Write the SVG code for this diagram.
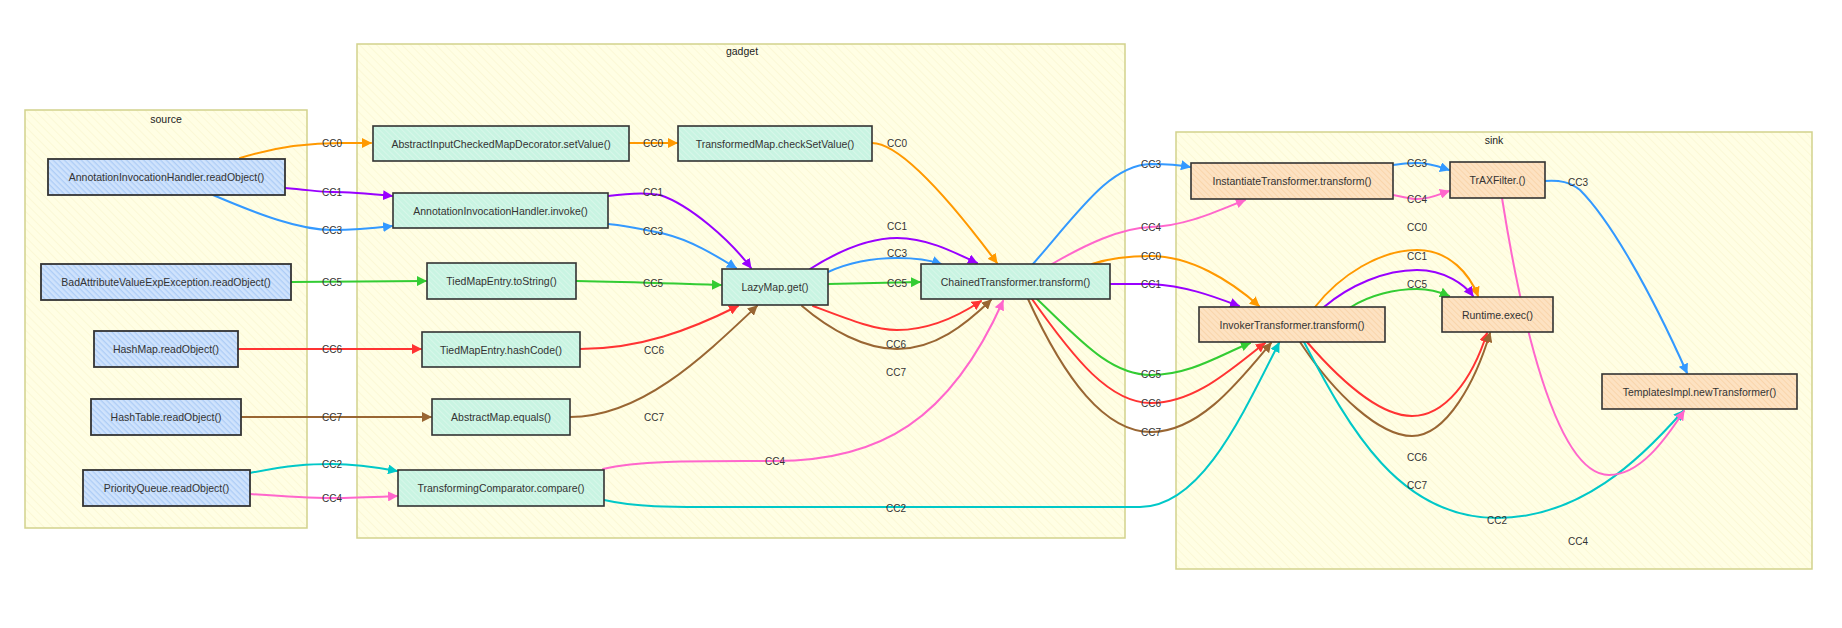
<svg xmlns="http://www.w3.org/2000/svg" width="1842" height="628" viewBox="0 0 1842 628">
<defs>
<style>
text{font-family:"Liberation Sans",Arial,sans-serif;fill:#333}
.nt{font-size:10.5px;text-anchor:middle;dominant-baseline:central}
.ct{font-size:10.5px;text-anchor:middle;fill:#222}
.el{font-size:10px;text-anchor:middle;dominant-baseline:central;fill:#333}
.cl{stroke:#d2d28c;stroke-width:1.5;fill:url(#hc)}
.src{fill:url(#hs);stroke:#333;stroke-width:1.8}
.gad{fill:url(#hg);stroke:#333;stroke-width:1.6}
.snk{fill:url(#hk);stroke:#333;stroke-width:1.6}
.e{fill:none;stroke-width:2;stroke-linecap:round}
.c0{stroke:#ff9900;marker-end:url(#a0)}
.c1{stroke:#9900ff;marker-end:url(#a1)}
.c2{stroke:#00c8c8;marker-end:url(#a2)}
.c3{stroke:#3399ff;marker-end:url(#a3)}
.c4{stroke:#ff66cc;marker-end:url(#a4)}
.c5{stroke:#33cc33;marker-end:url(#a5)}
.c6{stroke:#ff3333;marker-end:url(#a6)}
.c7{stroke:#996633;marker-end:url(#a7)}
</style>
<pattern id="hc" width="6" height="6" patternUnits="userSpaceOnUse" patternTransform="rotate(-45)">
<rect width="6" height="6" fill="#fffee4"/><line x1="0" y1="0" x2="0" y2="6" stroke="#f7f2c8" stroke-width="1"/>
</pattern>
<pattern id="hs" width="4" height="4" patternUnits="userSpaceOnUse" patternTransform="rotate(-45)">
<rect width="4" height="4" fill="#c4dcfb"/><line x1="0" y1="0" x2="0" y2="4" stroke="#9fc3f4" stroke-width="1.2"/><line x1="2" y1="0" x2="2" y2="4" stroke="#e2eefc" stroke-width="0.8"/>
</pattern>
<pattern id="hg" width="4" height="4" patternUnits="userSpaceOnUse" patternTransform="rotate(-45)">
<rect width="4" height="4" fill="#c9f4e2"/><line x1="0" y1="0" x2="0" y2="4" stroke="#e6fbf1" stroke-width="1"/>
</pattern>
<pattern id="hk" width="4" height="4" patternUnits="userSpaceOnUse" patternTransform="rotate(-45)">
<rect width="4" height="4" fill="#fde2c2"/><line x1="0" y1="0" x2="0" y2="4" stroke="#f6c894" stroke-width="1"/>
</pattern>
<marker id="a0" viewBox="0 0 10 10" refX="9" refY="5" markerWidth="5" markerHeight="5" orient="auto"><path d="M0,0 L10,5 L0,10 z" fill="#ff9900"/></marker>
<marker id="a1" viewBox="0 0 10 10" refX="9" refY="5" markerWidth="5" markerHeight="5" orient="auto"><path d="M0,0 L10,5 L0,10 z" fill="#9900ff"/></marker>
<marker id="a2" viewBox="0 0 10 10" refX="9" refY="5" markerWidth="5" markerHeight="5" orient="auto"><path d="M0,0 L10,5 L0,10 z" fill="#00c8c8"/></marker>
<marker id="a3" viewBox="0 0 10 10" refX="9" refY="5" markerWidth="5" markerHeight="5" orient="auto"><path d="M0,0 L10,5 L0,10 z" fill="#3399ff"/></marker>
<marker id="a4" viewBox="0 0 10 10" refX="9" refY="5" markerWidth="5" markerHeight="5" orient="auto"><path d="M0,0 L10,5 L0,10 z" fill="#ff66cc"/></marker>
<marker id="a5" viewBox="0 0 10 10" refX="9" refY="5" markerWidth="5" markerHeight="5" orient="auto"><path d="M0,0 L10,5 L0,10 z" fill="#33cc33"/></marker>
<marker id="a6" viewBox="0 0 10 10" refX="9" refY="5" markerWidth="5" markerHeight="5" orient="auto"><path d="M0,0 L10,5 L0,10 z" fill="#ff3333"/></marker>
<marker id="a7" viewBox="0 0 10 10" refX="9" refY="5" markerWidth="5" markerHeight="5" orient="auto"><path d="M0,0 L10,5 L0,10 z" fill="#996633"/></marker>
</defs>
<rect width="1842" height="628" fill="#ffffff"/>

<g id="cluster-source"><rect class="cl" x="25" y="110" width="282" height="418"/><text class="ct" x="166" y="123">source</text></g>
<g id="cluster-gadget"><rect class="cl" x="357" y="44" width="768" height="494"/><text class="ct" x="742" y="55">gadget</text></g>
<g id="cluster-sink"><rect class="cl" x="1176" y="132" width="636" height="437"/><text class="ct" x="1494" y="144">sink</text></g>

<g id="edges">
<path class="e c0" d="M240,158 C275,147 305,143 340,143 L371,143"/>
<path class="e c1" d="M285,188 C310,190 320,192 332,192 C352,192 372,194 392,196"/>
<path class="e c3" d="M213,195 C260,215 300,230 332,230 C355,230 375,228 392,226"/>
<path class="e c5" d="M291,282 L426,281"/>
<path class="e c6" d="M238,349 L421,349"/>
<path class="e c7" d="M241,417 L431,417"/>
<path class="e c2" d="M250,473 C290,465 310,464 332,464 C355,464 375,467 397,471"/>
<path class="e c4" d="M250,494 C290,497 310,498 332,498 C355,498 375,497 397,496"/>

<path class="e c0" d="M629,143 L677,143"/>
<path class="e c0" d="M872,143 C900,143 950,200 997,263"/>
<path class="e c1" d="M608,196 C630,193 645,192 660,195 C690,205 730,240 751,268"/>
<path class="e c3" d="M608,224 C630,226 650,231 665,234 C690,240 715,255 736,268"/>
<path class="e c5" d="M576,281 C640,282 680,284 721,285"/>
<path class="e c6" d="M580,349 C640,349 690,330 738,306"/>
<path class="e c7" d="M570,417 C640,417 700,360 757,306"/>
<path class="e c2" d="M604,500 C640,508 680,507 720,507 L1140,507 C1200,507 1240,420 1279,343"/>
<path class="e c4" d="M603,469 C640,460 700,461 775,461 C880,461 950,420 1003,301"/>

<path class="e c1" d="M810,269 C840,250 870,238 897,238 C925,238 950,250 977,263"/>
<path class="e c3" d="M828,272 C850,262 875,258 897,258 C915,258 930,260 941,264"/>
<path class="e c5" d="M828,284 L920,282"/>
<path class="e c6" d="M813,306 C850,320 875,330 897,330 C930,330 960,315 981,301"/>
<path class="e c7" d="M802,306 C830,330 865,349 897,349 C935,349 965,325 991,300"/>

<path class="e c3" d="M1033,264 C1080,210 1110,165 1151,164 C1170,164 1180,165 1190,167"/>
<path class="e c4" d="M1052,264 C1085,245 1120,228 1151,227 C1185,226 1215,212 1245,200"/>
<path class="e c0" d="M1092,264 C1110,258 1130,256 1151,256 C1190,256 1230,280 1259,306"/>
<path class="e c1" d="M1110,284 C1125,284 1140,284 1151,284 C1185,286 1210,295 1239,306"/>
<path class="e c5" d="M1037,299 C1080,340 1110,375 1151,375 C1190,375 1220,355 1250,343"/>
<path class="e c6" d="M1032,299 C1075,360 1110,403 1151,403 C1195,403 1230,370 1265,343"/>
<path class="e c7" d="M1028,299 C1065,380 1105,432 1151,432 C1200,432 1240,380 1271,343"/>

<path class="e c3" d="M1393,165 C1405,163 1412,163 1417,163 C1430,163 1440,167 1449,170"/>
<path class="e c4" d="M1393,195 C1405,197 1410,199 1417,199 C1430,199 1440,194 1449,191"/>
<path class="e c0" d="M1315,307 C1340,275 1380,250 1417,250 C1450,250 1470,275 1478,296"/>
<path class="e c1" d="M1324,307 C1350,285 1385,270 1417,270 C1445,270 1465,285 1473,296"/>
<path class="e c5" d="M1351,307 C1370,295 1395,289 1417,289 C1430,289 1440,292 1449,296"/>
<path class="e c6" d="M1307,342 C1340,380 1380,416 1412,416 C1445,416 1472,380 1487,333"/>
<path class="e c7" d="M1300,342 C1335,395 1380,436 1412,436 C1447,436 1476,380 1490,333"/>
<path class="e c2" d="M1304,342 C1350,430 1400,518 1497,518 C1580,518 1640,460 1683,411"/>
<path class="e c3" d="M1545,181 C1560,180 1570,182 1580,190 C1610,220 1650,290 1687,373"/>
<path class="e c4" d="M1502,198 C1515,280 1550,475 1609,475 C1640,475 1665,440 1684,411"/>

<text class="el" x="332" y="143">CC0</text>
<text class="el" x="332" y="192">CC1</text>
<text class="el" x="332" y="230">CC3</text>
<text class="el" x="332" y="282">CC5</text>
<text class="el" x="332" y="349">CC6</text>
<text class="el" x="332" y="417">CC7</text>
<text class="el" x="332" y="464">CC2</text>
<text class="el" x="332" y="498">CC4</text>
<text class="el" x="653" y="143">CC0</text>
<text class="el" x="653" y="192">CC1</text>
<text class="el" x="653" y="231">CC3</text>
<text class="el" x="653" y="283">CC5</text>
<text class="el" x="654" y="350">CC6</text>
<text class="el" x="654" y="417">CC7</text>
<text class="el" x="897" y="143">CC0</text>
<text class="el" x="897" y="226">CC1</text>
<text class="el" x="897" y="253">CC3</text>
<text class="el" x="897" y="283">CC5</text>
<text class="el" x="896" y="344">CC6</text>
<text class="el" x="896" y="372">CC7</text>
<text class="el" x="775" y="461">CC4</text>
<text class="el" x="896" y="508">CC2</text>
<text class="el" x="1151" y="164">CC3</text>
<text class="el" x="1151" y="227">CC4</text>
<text class="el" x="1151" y="256">CC0</text>
<text class="el" x="1151" y="284">CC1</text>
<text class="el" x="1151" y="374">CC5</text>
<text class="el" x="1151" y="403">CC6</text>
<text class="el" x="1151" y="432">CC7</text>
<text class="el" x="1417" y="163">CC3</text>
<text class="el" x="1417" y="199">CC4</text>
<text class="el" x="1417" y="227">CC0</text>
<text class="el" x="1417" y="256">CC1</text>
<text class="el" x="1417" y="284">CC5</text>
<text class="el" x="1417" y="457">CC6</text>
<text class="el" x="1417" y="485">CC7</text>
<text class="el" x="1497" y="520">CC2</text>
<text class="el" x="1578" y="182">CC3</text>
<text class="el" x="1578" y="541">CC4</text>
</g>

<g id="n-aih-read"><rect class="src" x="48" y="159" width="237" height="36"/><text class="nt" x="166.5" y="177">AnnotationInvocationHandler.readObject()</text></g>
<g id="n-bad"><rect class="src" x="41" y="264" width="250" height="36"/><text class="nt" x="166" y="282">BadAttributeValueExpException.readObject()</text></g>
<g id="n-hashmap"><rect class="src" x="94" y="331" width="144" height="36"/><text class="nt" x="166" y="349">HashMap.readObject()</text></g>
<g id="n-hashtable"><rect class="src" x="91" y="399" width="150" height="36"/><text class="nt" x="166" y="417">HashTable.readObject()</text></g>
<g id="n-pq"><rect class="src" x="83" y="470" width="167" height="36"/><text class="nt" x="166.5" y="488">PriorityQueue.readObject()</text></g>

<g id="n-setvalue"><rect class="gad" x="373" y="126" width="256" height="35"/><text class="nt" x="501" y="143.5">AbstractInputCheckedMapDecorator.setValue()</text></g>
<g id="n-checkset"><rect class="gad" x="678" y="126" width="194" height="35"/><text class="nt" x="775" y="143.5">TransformedMap.checkSetValue()</text></g>
<g id="n-invoke"><rect class="gad" x="393" y="193" width="215" height="35"/><text class="nt" x="500.5" y="210.5">AnnotationInvocationHandler.invoke()</text></g>
<g id="n-tostring"><rect class="gad" x="427" y="263" width="149" height="36"/><text class="nt" x="501.5" y="281">TiedMapEntry.toString()</text></g>
<g id="n-lazy"><rect class="gad" x="722" y="269" width="106" height="36"/><text class="nt" x="775" y="287">LazyMap.get()</text></g>
<g id="n-hashcode"><rect class="gad" x="422" y="332" width="158" height="35"/><text class="nt" x="501" y="349.5">TiedMapEntry.hashCode()</text></g>
<g id="n-equals"><rect class="gad" x="432" y="399" width="138" height="36"/><text class="nt" x="501" y="417">AbstractMap.equals()</text></g>
<g id="n-tc"><rect class="gad" x="398" y="470" width="206" height="36"/><text class="nt" x="501" y="488">TransformingComparator.compare()</text></g>
<g id="n-chained"><rect class="gad" x="921" y="264" width="189" height="35"/><text class="nt" x="1015.5" y="281.5">ChainedTransformer.transform()</text></g>

<g id="n-inst"><rect class="snk" x="1191" y="163" width="202" height="36"/><text class="nt" x="1292" y="181">InstantiateTransformer.transform()</text></g>
<g id="n-trax"><rect class="snk" x="1450" y="162" width="95" height="36"/><text class="nt" x="1497.5" y="180">TrAXFilter.()</text></g>
<g id="n-invoker"><rect class="snk" x="1199" y="307" width="186" height="35"/><text class="nt" x="1292" y="324.5">InvokerTransformer.transform()</text></g>
<g id="n-runtime"><rect class="snk" x="1442" y="297" width="111" height="35"/><text class="nt" x="1497.5" y="314.5">Runtime.exec()</text></g>
<g id="n-templates"><rect class="snk" x="1602" y="374" width="195" height="35"/><text class="nt" x="1699.5" y="391.5">TemplatesImpl.newTransformer()</text></g>
</svg>
